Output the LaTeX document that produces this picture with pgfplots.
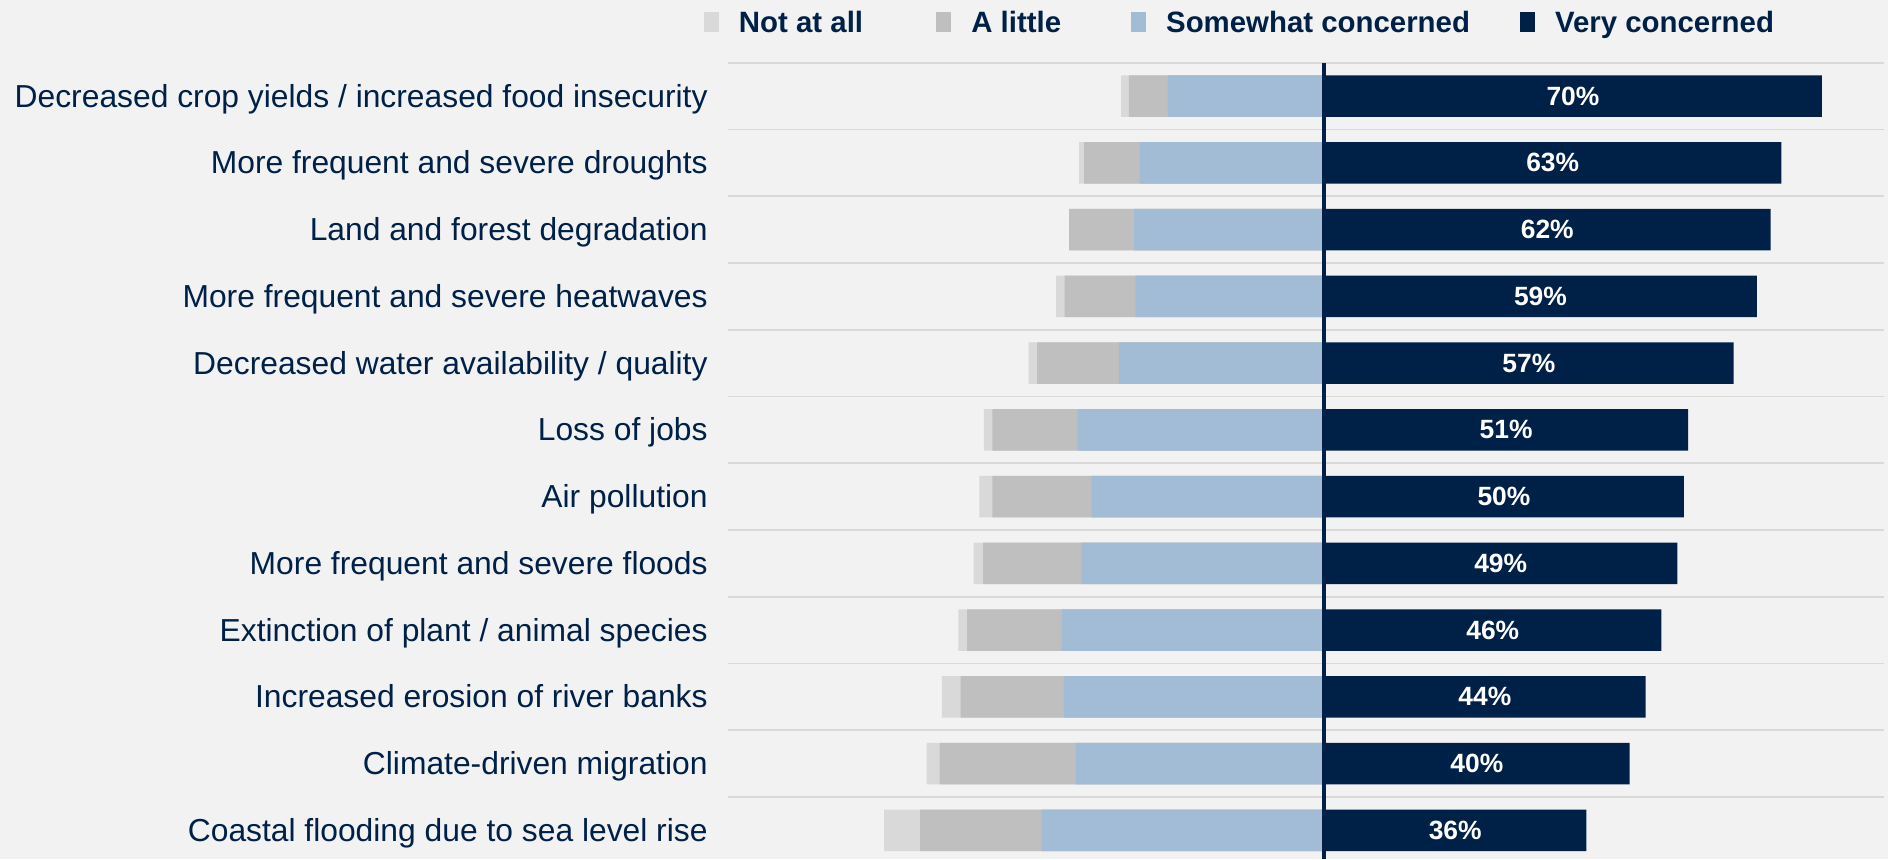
\documentclass[border=0pt]{standalone}
\usepackage{fontspec}
\setmainfont{Liberation Sans}
\usepackage{pgfplots}
\pgfplotsset{compat=1.18}
\usepackage{pgfplotstable}
\usetikzlibrary{backgrounds,calc}

\definecolor{bgc}{HTML}{F2F2F2}
\definecolor{notc}{HTML}{D9D9D9}
\definecolor{litc}{HTML}{BFBFBF}
\definecolor{somc}{HTML}{A2BCD6}
\definecolor{navyc}{HTML}{002147}
\definecolor{gridc}{HTML}{D9D9D9}

% shares in %; lab = printed label
\pgfplotstableread[col sep=comma]{
row,notatall,little,some,very,lab
1,1.1,5.4,21.6,68.9,70
2,0.7,7.7,25.5,63.3,63
3,0.0,9.0,26.3,61.8,62
4,1.2,9.8,26.1,59.9,59
5,1.2,11.3,28.4,56.7,57
6,1.2,11.8,34.1,50.4,51
7,1.8,13.7,32.2,49.8,50
8,1.3,13.6,33.6,48.9,49
9,1.2,13.1,36.3,46.7,46
10,2.6,14.3,36.0,44.5,44
11,1.8,18.8,34.4,42.3,40
12,5.0,16.8,39.1,36.3,36
}\data

\begin{document}
\begin{tikzpicture}
\begin{axis}[
  name=ax,
  scale only axis,
  width=578pt, height=398.15pt,
  xmin=-82.5, xmax=77.5,
  ymin=0.5, ymax=12.43,
  y dir=reverse,
  axis lines*=left,
  axis line style={draw=none},
  xtick=\empty,
  ytick={1,...,12},
  yticklabels={
    Decreased crop yields / increased food insecurity,
    More frequent and severe droughts,
    Land and forest degradation,
    More frequent and severe heatwaves,
    Decreased water availability / quality,
    Loss of jobs,
    Air pollution,
    More frequent and severe floods,
    Extinction of plant / animal species,
    Increased erosion of river banks,
    Climate-driven migration,
    Coastal flooding due to sea level rise},
  major tick length=0pt,
  minor tick length=0pt,
  minor ytick={0.5,1.5,...,11.5},
  yminorgrids,
  minor grid style={gridc, line width=0.9pt},
  yticklabel style={font=\fontsize{15.9}{18}\selectfont, text=navyc,
    anchor=base east, inner sep=0pt, xshift=-10pt, yshift=-5.5pt},
  legend columns=4,
  legend cell align=left,
  legend image code/.code={\fill[#1] (0pt,-4.5pt) rectangle (7.5pt,5.5pt);},
  legend style={at={(rel axis cs:0,1)}, anchor=west, xshift=-12pt, yshift=19.9pt,
    draw=none, fill=none, inner sep=0pt, outer sep=0pt,
    nodes={inner sep=0pt},
    font=\fontsize{14.7}{16}\selectfont\bfseries, text=navyc,
    /tikz/every odd column/.append style={column sep=10pt},
    /tikz/column 2/.style={column sep=36.6pt},
    /tikz/column 4/.style={column sep=35pt},
    /tikz/column 6/.style={column sep=25pt}},
]
\addplot[xbar, bar width=0.62, bar shift=0pt, fill=notc, draw=none]
  table[x expr={-(\thisrow{some}+\thisrow{little}+\thisrow{notatall})}, y=row]{\data};
\addlegendentry{Not at all}
\addplot[xbar, bar width=0.62, bar shift=0pt, fill=litc, draw=none]
  table[x expr={-(\thisrow{some}+\thisrow{little})}, y=row]{\data};
\addlegendentry{A little}
\addplot[xbar, bar width=0.62, bar shift=0pt, fill=somc, draw=none]
  table[x expr={-\thisrow{some}}, y=row]{\data};
\addlegendentry{Somewhat concerned}
\addplot[xbar, bar width=0.62, bar shift=0pt, fill=navyc, draw=none]
  table[x=very, y=row]{\data};
\addlegendentry{Very concerned}

\addplot[forget plot, draw=none, mark=none,
  point meta=explicit symbolic,
  nodes near coords={\pgfplotspointmeta\%},
  every node near coord/.append style={anchor=center, text=white,
    font=\fontsize{13.2}{15}\selectfont\bfseries}]
  table[x expr={\thisrow{very}/2}, y=row, meta=lab]{\data};

\draw[navyc, line width=2pt] (axis cs:0,0.5) -- (axis cs:0,12.43);
\end{axis}
\pgfresetboundingbox
\path[use as bounding box] ($(ax.south west)+(-364pt,0pt)$) rectangle ($(ax.north east)+(2pt,31.35pt)$);
\begin{scope}[on background layer]
\fill[bgc] ($(ax.south west)+(-364pt,0pt)$) rectangle ($(ax.north east)+(2pt,31.35pt)$);
\end{scope}
\end{tikzpicture}
\end{document}
